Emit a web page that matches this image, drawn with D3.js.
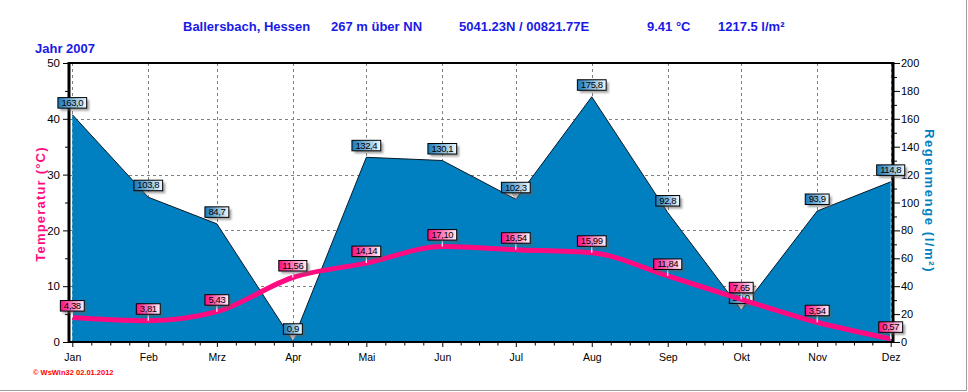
<!DOCTYPE html>
<html><head><meta charset="utf-8">
<script src="https://cdn.jsdelivr.net/npm/d3@7"></script>
<style>
body{margin:0;background:#fff}
svg{display:block}
text{font-family:"Liberation Sans",Arial,sans-serif}
</style>
</head><body>
<svg id="c" width="968" height="392"></svg>
<script>
// ---- data ----
const year = 2007;
const months = ["Jan","Feb","Mrz","Apr","Mai","Jun","Jul","Aug","Sep","Okt","Nov","Dez"];
const temperature = [4.38,3.81,5.43,11.56,14.14,17.10,16.54,15.99,11.84,7.65,3.54,0.57];
const rain = [163.0,103.8,84.7,0.9,132.4,130.1,102.3,175.8,92.8,23.0,93.9,114.8];
const tempTicks = [0,10,20,30,40,50];
const tempMinorTicks = [5,15,25,35,45];
const rainTicks = [0,20,40,60,80,100,120,140,160,180,200];
const rainMinorTicks = [10,30,50,70,90,110,130,150,170,190];
const titleParts = ["Ballersbach, Hessen","267 m über NN","5041.23N / 00821.77E","9.41 °C","1217.5 l/m²"];
const yearLabel = "Jahr  2007";
const tempTitle = "Temperatur  (°C)";
const rainTitle = "Regenmenge  (l/m²)";
const footer = "© WsWin32  02.01.2012";

// ---- setup ----
const svg = d3.select("#c");
const L = 69, R = 893, T = 63, B = 342;
const dates = months.map((m,i)=>new Date(year,i,1));
const x = d3.scaleTime().domain([dates[0], dates[11]]).range([72.3, 890.7]);
const yT = d3.scaleLinear().domain([0,50]).range([B, T]);
const yR = d3.scaleLinear().domain([0,200]).range([B, T]);
const deLocale = d3.formatLocale({decimal:",", thousands:".", grouping:[3], currency:["","€"]});
const fRain = deLocale.format(".1f"), fTemp = deLocale.format(".2f");

const blue = "#0080c0", pink = "#ff0a80", titleBlue = "#1a1ae6";

const defs = svg.append("defs");
const gB = defs.append("linearGradient").attr("id","gB");
gB.append("stop").attr("offset","0%").attr("stop-color","#1878b8");
gB.append("stop").attr("offset","100%").attr("stop-color","#f0f8ff");
const gP = defs.append("linearGradient").attr("id","gP");
gP.append("stop").attr("offset","0%").attr("stop-color","#ff0a80");
gP.append("stop").attr("offset","100%").attr("stop-color","#fff0f8");
const sh = defs.append("filter").attr("id","sh").attr("x","-20%").attr("y","-50%").attr("width","150%").attr("height","220%");
sh.append("feGaussianBlur").attr("stdDeviation",0.8);

// outer frame (right/bottom)
svg.append("line").attr("x1",966.5).attr("x2",966.5).attr("y1",0).attr("y2",391).attr("stroke","#a0a0a0");
svg.append("line").attr("x1",0).attr("x2",967).attr("y1",390.5).attr("y2",390.5).attr("stroke","#a0a0a0");

// title
const titleX = [183,331,459,647,718];
titleParts.forEach((t,i)=>{
  svg.append("text").attr("x",titleX[i]).attr("y",30.5).attr("fill",titleBlue)
    .attr("font-size",13).attr("font-weight","bold").text(t);
});
svg.append("text").attr("x",35).attr("y",52.5).attr("fill",titleBlue)
  .attr("font-size",13).attr("font-weight","bold").text(yearLabel);

// grid
const grid = svg.append("g").attr("stroke","#808080").attr("stroke-dasharray","3,3").attr("stroke-width",1);
grid.selectAll(".h").data(tempTicks.filter(v=>v>0 && v<50)).join("line")
  .attr("x1",L).attr("x2",R).attr("y1",d=>Math.round(yT(d))+0.5).attr("y2",d=>Math.round(yT(d))+0.5);
grid.selectAll(".v").data(dates).join("line")
  .attr("x1",d=>Math.round(x(d))+0.5).attr("x2",d=>Math.round(x(d))+0.5).attr("y1",T).attr("y2",B);

// rain area
const area = d3.area().x((d,i)=>x(dates[i])).y0(B).y1(d=>yR(d));
svg.append("path").datum(rain).attr("d",area).attr("fill",blue);
svg.append("path").datum(rain).attr("d",d3.line().x((d,i)=>x(dates[i])).y(d=>yR(d)))
  .attr("fill","none").attr("stroke","#0a1a28").attr("stroke-width",1);

// axes
const leftAx = svg.append("g").attr("transform",`translate(${L-1},0)`)
  .call(d3.axisLeft(yT).tickValues(tempTicks).tickSize(5).tickPadding(3).tickFormat(d3.format("d")));
leftAx.select(".domain").remove();
leftAx.selectAll("text").attr("font-size",11.5).attr("fill","#000").attr("font-family","Liberation Sans, Arial, sans-serif");
const leftMin = svg.append("g").attr("transform",`translate(${L-1},0)`)
  .call(d3.axisLeft(yT).tickValues(tempMinorTicks).tickSize(3).tickFormat(""));
leftMin.select(".domain").remove();
const rightAx = svg.append("g").attr("transform",`translate(${R+1},0)`)
  .call(d3.axisRight(yR).tickValues(rainTicks).tickSize(6).tickPadding(1).tickFormat(d3.format("d")));
rightAx.select(".domain").remove();
rightAx.selectAll("text").attr("font-size",11).attr("fill","#000").attr("font-family","Liberation Sans, Arial, sans-serif");
const rightMin = svg.append("g").attr("transform",`translate(${R+1},0)`)
  .call(d3.axisRight(yR).tickValues(rainMinorTicks).tickSize(3).tickFormat(""));
rightMin.select(".domain").remove();
const minorDates = [];
for(let i=0;i<dates.length-1;i++){
  const a=+dates[i], b=+dates[i+1];
  for(let k=1;k<4;k++) minorDates.push(new Date(a+(b-a)*k/4));
}
const botAx = svg.append("g").attr("transform",`translate(0,${B+1})`)
  .call(d3.axisBottom(x).tickValues(dates).tickSize(4).tickPadding(7).tickFormat((d,i)=>months[i]));
botAx.select(".domain").remove();
botAx.selectAll("text").attr("font-size",10.5).attr("fill","#000").attr("font-family","Liberation Sans, Arial, sans-serif");
const botMin = svg.append("g").attr("transform",`translate(0,${B+1})`)
  .call(d3.axisBottom(x).tickValues(minorDates).tickSize(2.5).tickFormat(""));
botMin.select(".domain").remove();
svg.selectAll(".tick line").attr("stroke","#000");

// frame lines
svg.append("line").attr("x1",L).attr("x2",L).attr("y1",T-1).attr("y2",B+1).attr("stroke","#000").attr("stroke-width",3);
svg.append("line").attr("x1",R).attr("x2",R).attr("y1",T-1).attr("y2",B+1).attr("stroke","#000").attr("stroke-width",3);
svg.append("line").attr("x1",L).attr("x2",R).attr("y1",B).attr("y2",B).attr("stroke","#000").attr("stroke-width",2);
svg.append("line").attr("x1",L).attr("x2",R).attr("y1",T).attr("y2",T).attr("stroke","#000").attr("stroke-width",2);

// label helper
function label(g, cx, py, txt, grad, kind, pointer){
  const h = 10.5, bottom = py - 6.5, top = bottom - h;
  const t = g.append("text").attr("x",cx).attr("y",bottom-2.2).attr("text-anchor","middle")
    .attr("font-size",9.5).attr("letter-spacing","-0.4").attr("fill","#000").text(txt);
  const w = t.node().getComputedTextLength() + 7;
  if(kind==="rain"){
    if(pointer) g.insert("path","text").attr("d",`M${cx-4},${bottom} L${cx+4},${bottom} L${cx},${py} Z`)
      .attr("fill","#c8c8c8").attr("stroke","#707070").attr("stroke-width",0.6);
  } else {
    g.insert("line","text").attr("x1",cx).attr("x2",cx).attr("y1",bottom).attr("y2",py)
      .attr("stroke","#fff").attr("stroke-width",1.2);
  }
  g.insert("rect","text").attr("x",cx-w/2+2.5).attr("y",top+2.5).attr("width",w).attr("height",h)
    .attr("fill","#606060").attr("opacity",0.6).attr("filter","url(#sh)");
  g.insert("rect","text").attr("x",cx-w/2).attr("y",top).attr("width",w).attr("height",h)
    .attr("fill",`url(#${grad})`).attr("stroke","#000").attr("stroke-width",1);
  t.raise();
}

// rain labels (pointer shown where the point lies in a dip)
const rainLabels = svg.append("g");
rain.forEach((v,i)=>{
  const dip = i>0 && i<rain.length-1 && v<rain[i-1] && v<rain[i+1];
  label(rainLabels.append("g"), x(dates[i]), yR(v), fRain(v), "gB", "rain", dip);
});

// temperature line
svg.append("path").datum(temperature)
  .attr("d", d3.line().x((d,i)=>x(dates[i])).y(d=>yT(d)).curve(d3.curveMonotoneX))
  .attr("fill","none").attr("stroke",pink).attr("stroke-width",5).attr("stroke-linejoin","round");

// temp labels
const tempLabels = svg.append("g");
temperature.forEach((v,i)=>{
  label(tempLabels.append("g"), x(dates[i]), yT(v), fTemp(v), "gP", "temp", true);
});

// axis titles
svg.append("text").attr("transform","translate(45,204) rotate(-90)").attr("text-anchor","middle")
  .attr("fill",pink).attr("font-size",13).attr("font-weight","bold").attr("letter-spacing","1.2").text(tempTitle);
svg.append("text").attr("transform","translate(925,201) rotate(90)").attr("text-anchor","middle")
  .attr("fill",blue).attr("font-size",13).attr("font-weight","bold").attr("letter-spacing","1.6").text(rainTitle);

// footer
svg.append("text").attr("x",33).attr("y",375).attr("fill","#ff0000").attr("font-size",7.5)
  .attr("font-weight","bold").text(footer);
</script>
</body></html>
